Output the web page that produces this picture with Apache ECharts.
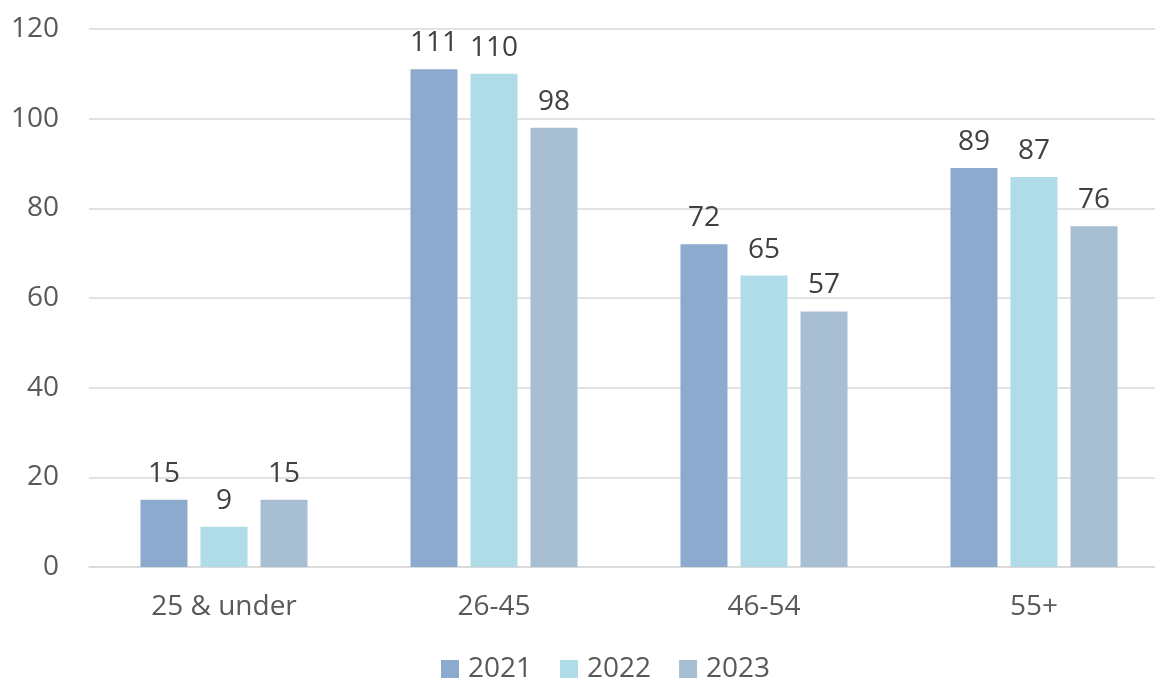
<!DOCTYPE html>
<html>
<head>
<meta charset="utf-8">
<script src="https://cdn.jsdelivr.net/npm/echarts@6/dist/echarts.min.js"></script>
<style>
  html, body { margin: 0; padding: 0; background: #fff; }
  #chart { width: 1155px; height: 680px; }
</style>
</head>
<body>
<div id="chart"></div>
<script>
// Age groups on the x axis
const categories = ['25 & under', '26-45', '46-54', '55+'];
// Counts per year
const years = ['2021', '2022', '2023'];
const values2021 = [15, 111, 72, 89];
const values2022 = [9, 110, 65, 87];
const values2023 = [15, 98, 57, 76];
const yTicks = { min: 0, max: 120, interval: 20 };

const colors = ['#8BAACD', '#B0DCE8', '#A8BED3'];
const textColor = '#595959';
const fontFamily = '"Open Sans", "Noto Sans", sans-serif';
const fontSize = 28;

const seriesData = [values2021, values2022, values2023];

const chart = echarts.init(document.getElementById('chart'));
chart.setOption({
  animation: false,
  color: colors,
  textStyle: { fontFamily: fontFamily, color: textColor },
  // plot area runs slightly past the right edge of the canvas
  grid: {
    left: 89, width: 1080, top: 29, bottom: 113,
    containLabel: false,
    outerBoundsMode: 'none'
  },
  legend: {
    data: years,
    top: 655,
    left: 441,
    padding: 0,
    itemWidth: 18,
    itemHeight: 18,
    itemGap: 28,
    icon: 'rect',
    textStyle: { fontSize: fontSize, color: textColor, fontFamily: fontFamily, padding: [0, 0, 0, 4] }
  },
  xAxis: {
    type: 'category',
    data: categories,
    axisLine: { lineStyle: { color: '#D9D9D9', width: 1.5 } },
    axisTick: { show: false },
    axisLabel: { fontSize: fontSize, color: textColor, margin: 26 }
  },
  yAxis: {
    type: 'value',
    min: yTicks.min,
    max: yTicks.max,
    interval: yTicks.interval,
    axisLine: { show: false },
    axisTick: { show: false },
    splitLine: { lineStyle: { color: '#D9D9D9', width: 1.5 } },
    axisLabel: { fontSize: fontSize, color: textColor, margin: 30 }
  },
  series: years.map((name, i) => ({
    name: name,
    type: 'bar',
    data: seriesData[i],
    barWidth: 47,
    barGap: '27.7%',
    itemStyle: { color: colors[i] },
    label: {
      show: true,
      position: 'top',
      distance: 12,
      fontSize: fontSize,
      color: '#404040'
    }
  }))
});
</script>
</body>
</html>
